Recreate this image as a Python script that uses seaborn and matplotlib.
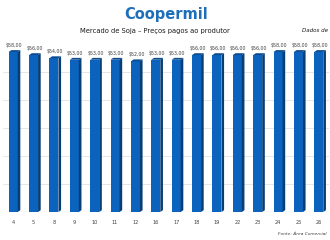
import matplotlib
matplotlib.use("Agg")
import matplotlib.pyplot as plt
from matplotlib.patches import Polygon
import seaborn as sns
import pandas as pd

days = ["4", "5", "8", "9", "10", "11", "12", "16", "17", "18", "19", "22", "23", "24", "25", "26"]
prices = [58, 56, 54, 53, 53, 53, 52, 53, 53, 56, 56, 56, 56, 58, 58, 58]
value_labels = ["$58,00", "$56,00", "$54,00", "$53,00", "$53,00", "$53,00", "$52,00", "$53,00",
                "$53,00", "$56,00", "$56,00", "$56,00", "$56,00", "$58,00", "$58,00", "$58,00"]

df = pd.DataFrame({"dia": days, "preco": prices})

sns.set_theme(style="white")
plt.rcParams['font.family'] = ['DejaVu Sans']

W, H = 330, 240
fig = plt.figure(figsize=(3.3, 2.4), dpi=100)
fig.patch.set_facecolor("white")

# axes in pixel coords
left_px, right_px, top_px, bottom_px = 3, 329, 45, 212
ax = fig.add_axes([left_px / W, 1 - bottom_px / H, (right_px - left_px) / W, (bottom_px - top_px) / H])

FRONT = "#0c63be"
SIDE = "#073e76"
TOP = "#0a4a8e"

sns.barplot(data=df, x="dia", y="preco", color=FRONT, saturation=1, width=0.44, ax=ax,
            edgecolor="none", linewidth=0)

BASE = -45.2
YTOP = 62.5
ax.set_ylim(BASE, YTOP)
ax.set_xlim(-0.5, len(days) - 0.5)

d = 0.13   # depth in category units
dy = 1.2   # depth rise in data units
for p in list(ax.patches):
    h = p.get_height()
    x0 = p.get_x()
    w = p.get_width()
    x1 = x0 + w
    p.set_y(BASE)
    p.set_height(h - BASE)
    top = h
    side = Polygon([(x1, BASE), (x1 + d, BASE + dy), (x1 + d, top + dy), (x1, top)],
                   closed=True, facecolor=SIDE, edgecolor="none", zorder=p.get_zorder())
    ax.add_patch(side)
    topf = Polygon([(x0, top), (x0 + d, top + dy), (x1 + d, top + dy), (x1, top)],
                   closed=True, facecolor=TOP, edgecolor="none", zorder=p.get_zorder())
    ax.add_patch(topf)

# data labels
for i, (v, lab) in enumerate(zip(prices, value_labels)):
    ax.annotate(lab, (i + 0.05, v + dy), xytext=(0, 1.5), textcoords="offset points",
                ha="center", va="bottom", fontsize=3.4, color="#404040")

# gridlines
grid_vals = [BASE + 18 * k for k in range(1, 6)]
for g in grid_vals:
    ax.axhline(g, color="#dcdcdc", lw=0.5, zorder=0)
ax.axhline(BASE, color="#c5d5e6", lw=0.9, zorder=0.5)

ax.set_yticks([])
ax.set_xlabel("")
ax.set_ylabel("")
ax.tick_params(axis="x", length=0, pad=6, labelsize=3.6, labelcolor="#404040")
for s in ax.spines.values():
    s.set_visible(False)
ax.set_facecolor("white")

# titles
fig.text(166 / W, 1 - 15 / H, "Coopermil", ha="center", va="center", fontsize=10.5,
         color="#1e6fb9", fontweight="bold", family=["DejaVu Sans"])
fig.text(155 / W, 1 - 31 / H, "Mercado de Soja – Preços pagos ao produtor", ha="center", va="center",
         fontsize=4.9, color="#1a1a1a")
fig.text(328 / W, 1 - 31 / H, "Dados de", ha="right", va="center", fontsize=4.0,
         color="#1a1a1a", style="italic")
fig.text(327 / W, 1 - 234 / H, "Fonte: Área Comercial", ha="right", va="center", fontsize=3.2,
         color="#404040", style="italic")

fig.savefig("out.png", dpi=100, facecolor="white")
